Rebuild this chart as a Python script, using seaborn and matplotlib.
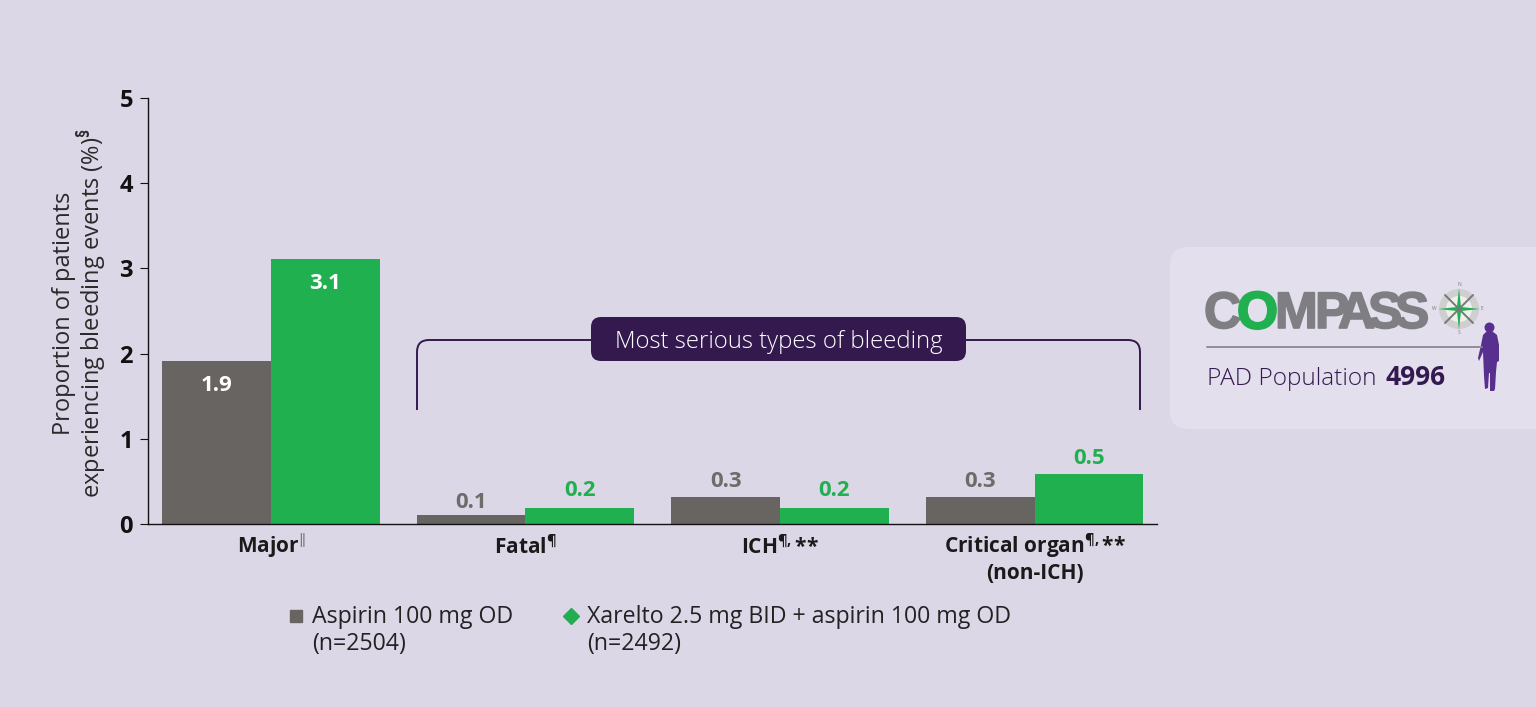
import numpy as np
import pandas as pd
import matplotlib
matplotlib.use('Agg')
import matplotlib.pyplot as plt
import matplotlib.patheffects as pe
import seaborn as sns
from matplotlib.lines import Line2D
from matplotlib.patches import Circle, FancyBboxPatch, Polygon, PathPatch
from matplotlib.path import Path

# ---------------------------------------------------------
# data
# ---------------------------------------------------------
categories = ['Major', 'Fatal', 'ICH', 'Critical organ']
tick_labels = [
    r'Major$^{\Vert}$',
    r'Fatal$^{\P}$',
    r'ICH$^{\P,}$**',
    'Critical organ$^{\\P,}$**\n(non-ICH)',
]
series_names = ['Aspirin 100 mg OD\n(n=2504)',
                'Xarelto 2.5 mg BID + aspirin 100 mg OD\n(n=2492)']
# bar heights as drawn (the artwork does not follow the printed numbers exactly)
aspirin_heights = [1.91, 0.10, 0.32, 0.32]
xarelto_heights = [3.11, 0.19, 0.19, 0.59]
aspirin_labels = ['1.9', '0.1', '0.3', '0.3']
xarelto_labels = ['3.1', '0.2', '0.2', '0.5']
y_ticks = [0, 1, 2, 3, 4, 5]

BG = '#dcd7e6'
PANEL = '#e3dfed'
GREY = '#686462'
GREEN = '#20b04f'
DARK = '#34194f'
LOGO_GREY = '#7f7f83'
W, H = 1536, 707

sns.set_theme(style='white')
plt.rcParams['font.family'] = ['Open Sans', 'DejaVu Sans']
plt.rcParams['mathtext.fontset'] = 'custom'
plt.rcParams['mathtext.rm'] = 'Open Sans:bold'
plt.rcParams['mathtext.it'] = 'Open Sans:bold'
plt.rcParams['mathtext.bf'] = 'Open Sans:bold'

df = pd.DataFrame({
    'category': categories * 2,
    'value': aspirin_heights + xarelto_heights,
    'arm': [series_names[0]] * 4 + [series_names[1]] * 4,
})

fig = plt.figure(figsize=(W / 100, H / 100), dpi=100, facecolor=BG)
ax = fig.add_axes([148 / W, 1 - 524 / H, (1157 - 148) / W, (524 - 98) / H])
ax.set_facecolor('none')

sns.barplot(data=df, x='category', y='value', hue='arm', order=categories,
            hue_order=series_names, palette=[GREY, GREEN], width=0.853,
            gap=0, saturation=1, legend=False, linewidth=0, ax=ax)

ax.set_xlim(-0.483, 3.481)
ax.set_ylim(0, 5)
ax.set_yticks(y_ticks)
ax.set_yticklabels(y_ticks, fontsize=17, fontweight='bold', color='#111111')
ax.set_xticks(range(4))
ax.set_xticklabels(tick_labels, fontsize=15, fontweight='bold', color='#1a1a1a',
                   linespacing=1.2)
ax.tick_params(axis='y', length=5.8, width=0.8, color='#111111', left=True, pad=5)
ax.tick_params(axis='x', length=0, pad=6)
# the superscripts change the label height, so each label gets its own pad
for tick, pad in zip(ax.xaxis.get_major_ticks(), [5.3, 8.2, 8.2, 5.3]):
    tick.set_pad(pad)
ax.set_xlabel('')
ax.set_ylabel('Proportion of patients\nexperiencing bleeding events (%)$^{\\S}$',
              fontsize=17, color='#2a2a2a', linespacing=0.95)
ax.yaxis.set_label_coords(-0.0386, 0.495)
sns.despine(ax=ax)
for side in ['left', 'bottom']:
    ax.spines[side].set_color('#111111')
    ax.spines[side].set_linewidth(1)

# value labels, in px above (or below) the top of each bar
gaps_px = [[-24, 13, 15, 15], [-24, 17, 17, 15]]
texts = [aspirin_labels, xarelto_labels]
for k, cont in enumerate(ax.containers):
    for i, bar in enumerate(cont):
        inside = gaps_px[k][i] < 0
        col = 'white' if inside else ('#6f6b69' if k == 0 else GREEN)
        ax.annotate(texts[k][i], (bar.get_x() + bar.get_width() / 2, bar.get_height()),
                    xytext=(0, gaps_px[k][i] * 0.72), textcoords='offset points',
                    ha='center', va='center', fontsize=16, fontweight='bold', color=col)

# legend
handles = [
    Line2D([], [], ls='', marker='s', ms=9, color=GREY, label=series_names[0]),
    Line2D([], [], ls='', marker='D', ms=8.5, color='#22ad50', label=series_names[1]),
]
leg = fig.legend(handles=handles, ncol=2, frameon=False, loc='upper left',
                 bbox_to_anchor=(268 / W, 1 - 584 / H), fontsize=16.7, labelcolor='#222222',
                 handlelength=0.6, handletextpad=0.4, columnspacing=2.2, labelspacing=0)
for t in leg.get_texts():
    t.set_linespacing(1.2)
# marker sits on the first line of its label
for h in leg.legend_handles:
    h.set_ydata(np.asarray(h.get_ydata()) + 11)

# ---------------------------------------------------------
# overlay in pixel coordinates: bracket, callout, study badge
# ---------------------------------------------------------
ov = fig.add_axes([0, 0, 1, 1])
ov.set_xlim(0, W)
ov.set_ylim(H, 0)
ov.axis('off')

for x0, x1, sgn in [(417, 595, 1), (1140, 960, -1)]:
    r = 12
    verts = [(x0, 410), (x0, 340 + r), (x0, 340), (x0 + sgn * r, 340), (x1, 340)]
    codes = [Path.MOVETO, Path.LINETO, Path.CURVE3, Path.CURVE3, Path.LINETO]
    ov.add_patch(PathPatch(Path(verts, codes), fc='none', ec=DARK, lw=1.4))

ov.add_patch(FancyBboxPatch((601, 327), 355, 24, boxstyle='round,pad=10,rounding_size=10',
                            fc=DARK, ec='none'))
ov.text(778.5, 342, 'Most serious types of bleeding', ha='center', va='center',
        fontsize=17.2, color='white', fontweight='light')

# badge
ov.add_patch(FancyBboxPatch((1188, 265), 400, 146, boxstyle='round,pad=18,rounding_size=18',
                            fc=PANEL, ec='none'))

# COMPASS wordmark, letters packed tightly as in the logo
heavy = [pe.withStroke(linewidth=1.2, foreground=LOGO_GREY)]
for ch, x in [('C', 1204), ('M', 1275), ('P', 1315), ('A', 1338), ('S', 1368), ('S', 1395)]:
    ov.text(x, 328, ch, fontsize=37, fontweight='bold', color=LOGO_GREY, va='baseline',
            family='Liberation Sans', path_effects=heavy)
ov.text(1237, 328.5, 'O', fontsize=38, fontweight='bold', color=GREEN, va='baseline',
        family='Liberation Sans', path_effects=[pe.withStroke(linewidth=1.5, foreground=GREEN)])

# compass rose
cx, cy = 1459, 309
ov.add_patch(Circle((cx, cy), 20, fc='#cfcfcf', ec='none'))
ov.add_patch(Circle((cx, cy), 13, fc='#eef0ee', ec='none'))
for dx, dy in [(14, -14), (-14, -14), (14, 14), (-14, 14)]:
    ov.plot([cx, cx + dx], [cy, cy + dy], color='#77787a', lw=1.4)
for dx, dy in [(0, -21), (0, 21), (21, 0), (-21, 0)]:
    px, py = (2.2, 0) if dx == 0 else (0, 2.2)
    ov.add_patch(Polygon([(cx + dx, cy + dy), (cx + px, cy + py), (cx - px, cy - py)],
                         fc=GREEN, ec='none'))
for ch, tx, ty in [('N', cx, cy - 24), ('E', cx + 23, cy), ('S', cx, cy + 24), ('W', cx - 25, cy)]:
    ov.text(tx, ty, ch, fontsize=3.5, color='#77787a', ha='center', va='center')

ov.plot([1207, 1482], [347, 347], color='#8b8791', lw=1.3)
ov.text(1207, 385, 'PAD Population', fontsize=17.6, color=DARK, va='baseline', fontweight='light')
ov.text(1385, 385, '4996', fontsize=19, color=DARK, va='baseline', fontweight='bold')

# person
PURPLE = '#57308f'
ov.add_patch(Circle((1489.5, 327.5), 5, fc=PURPLE, ec='none'))
ov.add_patch(Polygon([(1487, 331), (1492, 331), (1497, 335), (1499, 345), (1499, 361),
                      (1497, 362), (1496, 372), (1495, 389), (1494, 391), (1490, 391),
                      (1490, 373), (1489, 373), (1488, 388), (1485, 389), (1484, 376),
                      (1483, 352), (1479, 361), (1478, 358), (1481, 345), (1483, 335)],
                     fc=PURPLE, ec='none'))

fig.savefig('out.png', dpi=100, facecolor=BG)
